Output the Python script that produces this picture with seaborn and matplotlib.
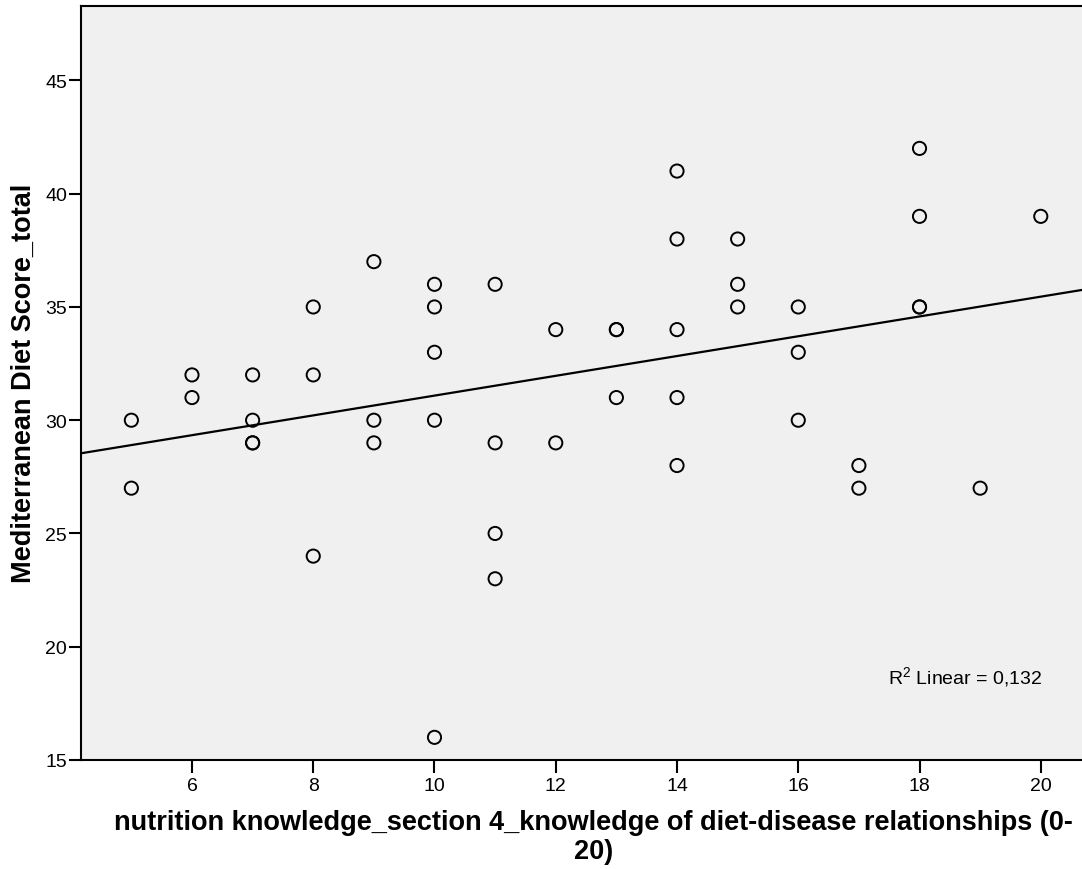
import numpy as np
import pandas as pd
import matplotlib
matplotlib.use("Agg")
import matplotlib.pyplot as plt
import seaborn as sns

# =========================
# DATA (repeated pairs are overlapping points)
# =========================
knowledge = [5, 5, 6, 6, 7, 7, 7, 7, 8, 8, 8, 9, 9, 9,
             10, 10, 10, 10, 10, 11, 11, 11, 11, 12, 12, 13, 13, 13,
             14, 14, 14, 14, 14, 15, 15, 15, 16, 16, 16, 17, 17,
             18, 18, 18, 18, 19, 20]
med_score = [30, 27, 32, 31, 32, 30, 29, 29, 35, 32, 24, 37, 30, 29,
             36, 35, 33, 30, 16, 36, 29, 25, 23, 34, 29, 34, 34, 31,
             41, 38, 34, 31, 28, 38, 36, 35, 35, 33, 30, 28, 27,
             42, 39, 35, 35, 27, 39]
r2_label = "R$^2$ Linear = 0,132"
x_label = "nutrition knowledge_section 4_knowledge of diet-disease relationships (0-\n20)"
y_label = "Mediterranean Diet Score_total"

df = pd.DataFrame({"knowledge": knowledge, "score": med_score})

# =========================
# PLOT
# =========================
sns.set_style("ticks")
plt.rcParams['font.family'] = ['Liberation Sans', 'DejaVu Sans']
plt.rcParams['text.color'] = 'black'
plt.rcParams['axes.labelcolor'] = 'black'
plt.rcParams['mathtext.fontset'] = 'custom'
plt.rcParams['mathtext.rm'] = 'Liberation Sans'

fig = plt.figure(figsize=(10.82, 8.70), dpi=100)
ax = fig.add_axes([0.0749, 0.1253, 0.9251, 0.8670])
ax.set_facecolor("#F0F0F0")

ax.set_xlim(4.17, 20.68)
ax.set_ylim(15, 48.3)

sns.scatterplot(data=df, x="knowledge", y="score", ax=ax,
                facecolor="none", edgecolor="black", linewidth=1.4, s=90,
                zorder=3)

# fit line across the full axis range
sns.regplot(data=df, x="knowledge", y="score", ax=ax, scatter=False,
            ci=None, truncate=False, color="black", line_kws={"linewidth": 1.6})
ax.set_xlim(4.17, 20.68)
ax.set_ylim(15, 48.3)

ax.set_xticks([6, 8, 10, 12, 14, 16, 18, 20])
ax.set_yticks([15, 20, 25, 30, 35, 40, 45])
ax.tick_params(axis="both", labelsize=14, length=9, width=1.5, color="black",
               labelcolor="black", direction="out")
ax.tick_params(axis="x", pad=3)
ax.tick_params(axis="y", pad=1)

for side in ["left", "bottom", "top"]:
    ax.spines[side].set_linewidth(1.5)
    ax.spines[side].set_color("black")
ax.spines["right"].set_visible(False)

ax.set_xlabel(x_label, fontsize=19.5, fontweight="bold", linespacing=1.15)
ax.xaxis.set_label_coords(0.512, -0.065, transform=ax.transAxes)
ax.xaxis.label.set_va("top")
ax.set_ylabel(y_label, fontsize=19.5, fontweight="bold", labelpad=6)

ax.text(0.806, 0.11, r2_label, transform=ax.transAxes, fontsize=14,
        ha="left", va="center")

plt.savefig("out.png", dpi=100)
